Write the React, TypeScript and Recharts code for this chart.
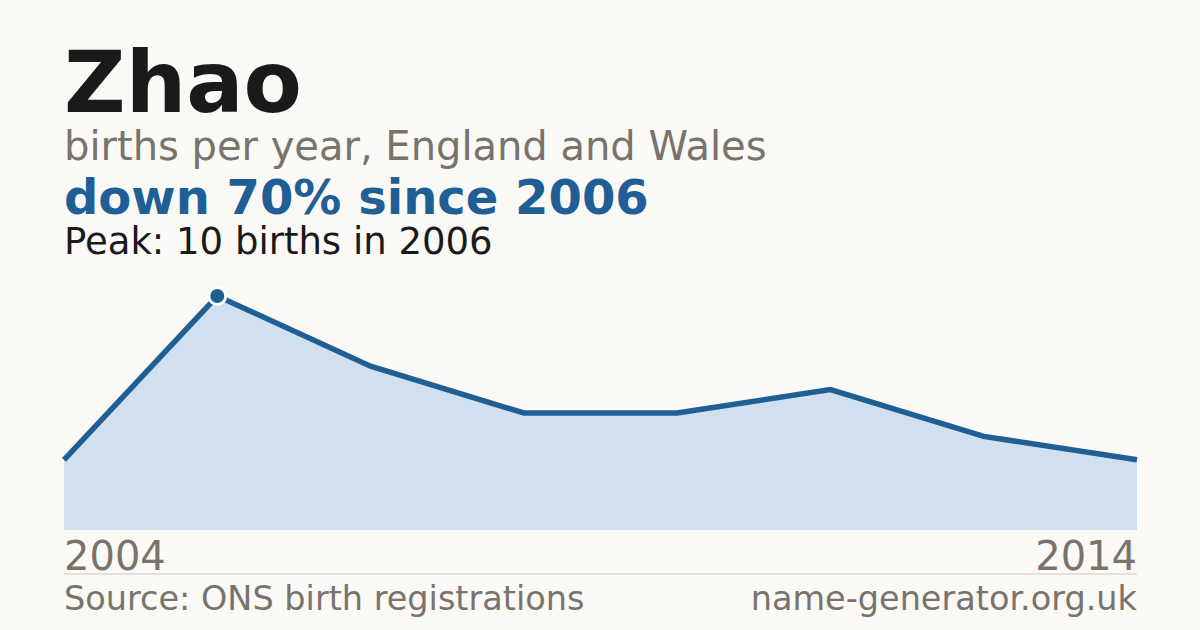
import { AreaChart, Area, XAxis, YAxis } from "recharts";

const years = ["2004", "2006", "2008", "2009", "2010", "2011", "2012", "2014"];
const births = [3, 10, 7, 5, 5, 6, 4, 3];
const axisTicks = ["2004", "2014"];

const data = years.map((year, i) => ({ year, births: births[i] }));
const peakIdx = births.indexOf(Math.max(...births));

const BLUE = "#1f5f96";
const GREY = "#78736b";
const FONT = "'DejaVu Sans', sans-serif";

// eslint-disable-next-line @typescript-eslint/no-explicit-any
function YearTick(props: any) {
  const { x, y, payload, index } = props;
  return (
    <text
      x={x} y={y} dy={32}
      textAnchor={index === 0 ? "start" : "end"}
      fontSize={40} fill={GREY} fontFamily={FONT}
    >
      {payload.value}
    </text>
  );
}

// eslint-disable-next-line @typescript-eslint/no-explicit-any
function PeakDot(props: any) {
  const { cx, cy, index } = props;
  if (index !== peakIdx) return <g key={index} />;
  return <circle key={index} cx={cx} cy={cy} r={8.5} fill={BLUE} stroke="#ffffff" strokeWidth={3} />;
}

export default function App() {
  return (
    <div style={{ position: "fixed", left: 0, top: 0, width: 1200, height: 630, background: "#faf9f5", fontFamily: FONT }}>
      <AreaChart width={1200} height={630} data={data} margin={{ top: 296, right: 63, left: 64, bottom: 70 }}>
        <XAxis
          dataKey="year" ticks={axisTicks} interval={0} height={30}
          axisLine={false} tickLine={false} tick={<YearTick />}
        />
        <YAxis hide domain={[0, 10]} />
        <Area
          type="linear" dataKey="births"
          stroke={BLUE} strokeWidth={5.5} fill="#d0e0ef" fillOpacity={1}
          dot={<PeakDot />} activeDot={false} isAnimationActive={false}
        />
      </AreaChart>
      <svg width={1200} height={630} style={{ position: "absolute", left: 0, top: 0, pointerEvents: "none" }}>
        <text x={64} y={112} fontSize={85} fontWeight="bold" fill="#1a1a1a" fontFamily={FONT}>Zhao</text>
        <text x={64} y={160} fontSize={40} fill={GREY} fontFamily={FONT}>births per year, England and Wales</text>
        <text x={64} y={214} fontSize={48} fontWeight="bold" fill={BLUE} fontFamily={FONT}>down 70% since 2006</text>
        <text x={64} y={254} fontSize={37} fill="#1a1a1a" fontFamily={FONT}>Peak: 10 births in 2006</text>
        <line x1={64} x2={1137} y1={574} y2={574} stroke="#ddd9d0" strokeWidth={1.5} />
        <text x={64} y={610} fontSize={33.5} fill={GREY} fontFamily={FONT}>Source: ONS birth registrations</text>
        <text x={1137} y={610} fontSize={33.5} fill={GREY} fontFamily={FONT} textAnchor="end">name-generator.org.uk</text>
      </svg>
    </div>
  );
}
